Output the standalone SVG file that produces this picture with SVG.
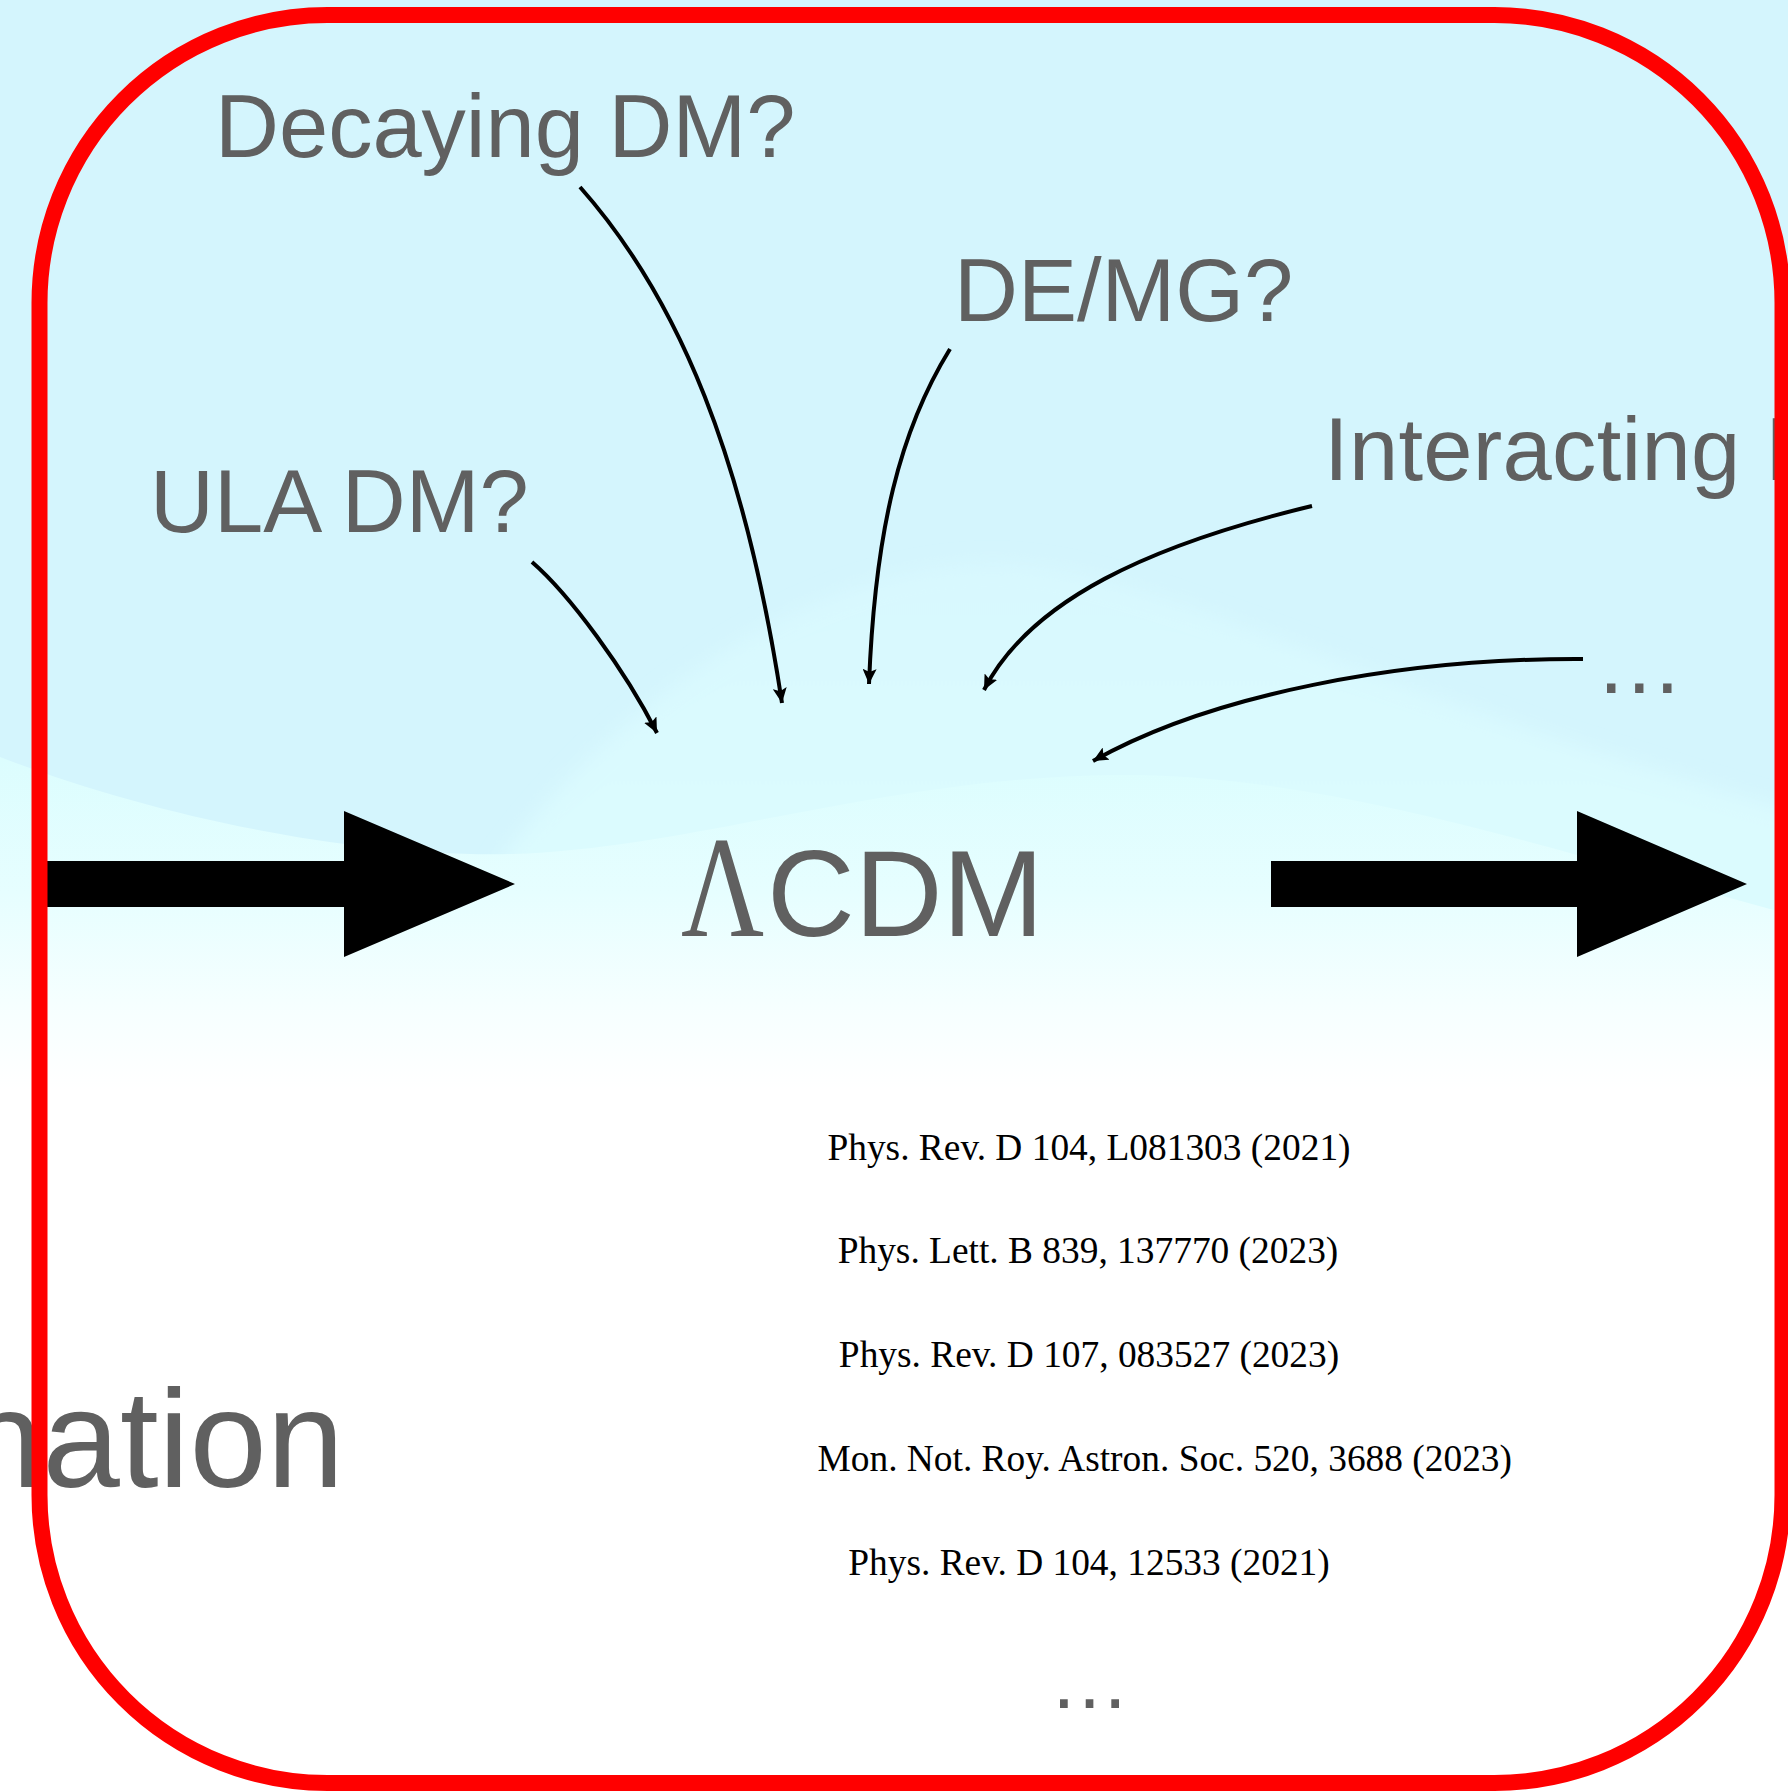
<svg xmlns="http://www.w3.org/2000/svg" width="1788" height="1792" viewBox="0 0 1788 1792">
<defs>
<style>
.lbl{font-family:"Liberation Sans",Arial,sans-serif;fill:#606060;font-size:88.5px}
.ref{font-family:"Liberation Serif","Times New Roman",serif;fill:#000;font-size:37.4px}
.con{fill:none;stroke:#000;stroke-width:4}
.big{fill:#000}
</style>
<linearGradient id="low" gradientUnits="userSpaceOnUse" x1="0" y1="760" x2="0" y2="1090">
<stop offset="0" stop-color="#dcfdfe"/>
<stop offset="0.4" stop-color="#e6feff"/>
<stop offset="0.75" stop-color="#f6ffff"/>
<stop offset="1" stop-color="#ffffff"/>
</linearGradient>
<linearGradient id="hill" gradientUnits="userSpaceOnUse" x1="0" y1="560" x2="0" y2="860">
<stop offset="0" stop-color="#d8f8fe"/>
<stop offset="1" stop-color="#dbfbfe"/>
</linearGradient>
<filter id="soft" x="-0.1" y="-0.1" width="1.2" height="1.2">
<feGaussianBlur stdDeviation="10"/>
</filter>
<marker id="ah" markerUnits="userSpaceOnUse" markerWidth="16" markerHeight="14" refX="15" refY="7" orient="auto">
<path d="M0,0 L15,7 L0,14 L3,7 Z" fill="#000"/>
</marker>
</defs>
<g id="background">
<rect x="0" y="0" width="1788" height="1792" fill="#d4f5fd"/>
<path d="M500,862 C570,760 770,565 992,564 C1160,565 1360,700 1900,840 L1900,1900 L0,1900 Z" fill="url(#hill)" filter="url(#soft)"/>
<path d="M0,757 C150,815 350,858 513,854 C700,848 900,772 1140,775 C1350,780 1550,850 1788,914 L1788,1792 L0,1792 Z" fill="url(#low)"/>
</g>
<g id="connectors">
<path class="con" d="M532,562 C570,595 625,670 657,733" marker-end="url(#ah)"/>
<path class="con" d="M580,187 C680,300 745,460 782,703" marker-end="url(#ah)"/>
<path class="con" d="M950,349 C900,430 875,530 869,684" marker-end="url(#ah)"/>
<path class="con" d="M1312,506 C1150,545 1030,600 984,690" marker-end="url(#ah)"/>
<path class="con" d="M1583,659 C1400,658 1210,695 1093,761" marker-end="url(#ah)"/>
<polygon class="big" points="40,861 344,861 344,811 515,884 344,957 344,907 40,907"/>
<polygon class="big" points="1271,861 1577,861 1577,811 1747,884 1577,957 1577,907 1271,907"/>
</g>
<g id="node-decaying"><text class="lbl" x="215" y="157">Decaying DM?</text></g>
<g id="node-demg"><text class="lbl" x="954" y="321">DE/MG?</text></g>
<g id="node-ula"><text class="lbl" x="150" y="532">ULA DM?</text></g>
<g id="node-interacting"><text class="lbl" x="1324" y="480" letter-spacing="0.3">Interacting DE?</text></g>
<g id="node-more"><text class="lbl" x="1595" y="693">…</text></g>
<g id="node-lcdm">
<text transform="translate(681,936) scale(0.8,1)" font-family="Liberation Serif,serif" font-size="143.5" fill="#606060">Λ</text>
<text x="767" y="936" font-family="Liberation Sans,Arial,sans-serif" font-size="121.6" fill="#606060">CDM</text>
</g>
<g id="node-nation"><text class="lbl" x="344" y="1487" text-anchor="end" style="font-size:139px">nation</text></g>
<g id="node-refs">
<text class="ref" x="1089" y="1160" text-anchor="middle">Phys. Rev. D 104, L081303 (2021)</text>
<text class="ref" x="1088" y="1263" text-anchor="middle">Phys. Lett. B 839, 137770 (2023)</text>
<text class="ref" x="1089" y="1367" text-anchor="middle">Phys. Rev. D 107, 083527 (2023)</text>
<text class="ref" x="817.5" y="1471">Mon. Not. Roy. Astron. Soc. 520, 3688 (2023)</text>
<text class="ref" x="1089" y="1575" text-anchor="middle">Phys. Rev. D 104, 12533 (2021)</text>
<text class="lbl" x="1049" y="1708" style="font-size:81px">…</text>
</g>
<g id="frame">
<rect x="39.5" y="15" width="1743" height="1768" rx="288" ry="288" fill="none" stroke="#ff0000" stroke-width="16"/>
</g>
</svg>
